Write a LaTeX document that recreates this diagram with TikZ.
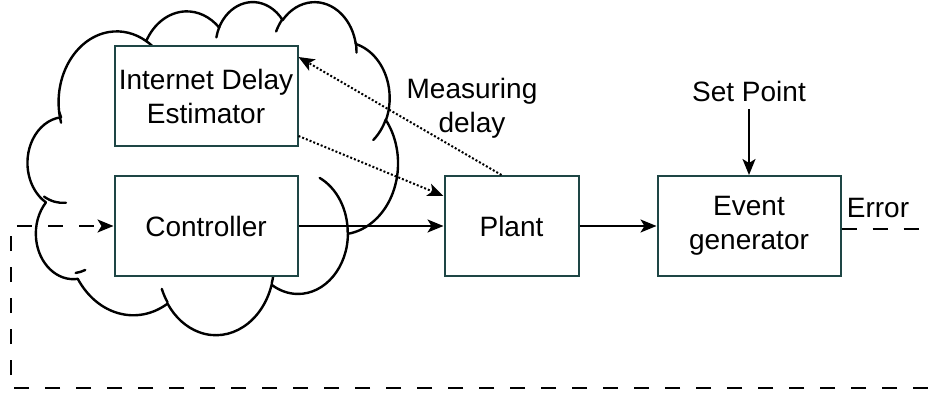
\documentclass[tikz,border=0pt]{standalone}
\usepackage{fontspec}
\setmainfont{Liberation Sans}
\usetikzlibrary{arrows.meta,positioning}
\definecolor{boxline}{HTML}{1E4645}

% one bump of the cloud: x radius, y radius, start angle, sweep (angles as seen, y down)
\newcommand\cldarc[4]{%
  \pgfextra{%
    \pgfmathsetmacro\cldS{atan2((#1)*sin(#3),(#2)*cos(#3))}%
    \pgfmathsetmacro\cldE{atan2((#1)*sin(#3+#4),(#2)*cos(#3+#4))}%
    \pgfmathsetmacro\cldE{\cldS+Mod(\cldE-\cldS,360)}%
    \global\let\cldS\cldS \global\let\cldE\cldE}
  arc[x radius=#1pt, y radius=#2pt, start angle=\cldS, end angle=\cldE]}

\begin{document}
\begin{tikzpicture}[
  x=0.5pt, y=-0.5pt,
  font=\fontsize{14}{17}\selectfont,
  block/.style={draw=boxline,fill=white,line width=1pt,align=center,minimum height=50pt,inner sep=0pt},
  arr/.style={-{Stealth[length=8pt,width=6.5pt,inset=2pt]},line width=1pt},
  fbline/.style={line width=1pt,dash pattern=on 7.5pt off 8pt},
  probe/.style={line width=1.1pt,dash pattern=on 1pt off 1pt},
  cloudline/.style={line width=1.2pt,line join=round,line cap=round}
]
\useasboundingbox (0,0) rectangle (928,396);

% the network cloud, drawn in a 43.2 x 43.2 box
\begin{scope}[shift={(25.5,1)},x=1pt,y=1pt,xscale=4.31,yscale=-3.854]
  \draw[cloudline,fill=white] (3.9,14.37)
    \cldarc{6.753}{9.19}{-190.48748}{123.78053}
    \cldarc{5.333}{7.267}{-144.10238}{89.94523}
    \cldarc{4.365}{5.945}{-145.80792}{99.72302}
    \cldarc{4.857}{6.595}{-130.98607}{117.24173}
    \cldarc{5.333}{7.273}{-78.70888}{109.02692}
    \cldarc{6.775}{9.22}{-46.26725}{130.269}
    \cldarc{5.785}{7.867}{0.62502}{114.03333}
    \cldarc{6.752}{9.215}{22.4516}{115.17255}
    \cldarc{7.72}{10.543}{66.24263}{71.63198}
    \cldarc{4.36}{5.918}{-274.94208}{146.73557}
    \cldarc{4.345}{5.945}{-246.8285}{152.51885}
    -- cycle;
  \draw[cloudline]
    (4.693,26.177) \cldarc{4.345}{5.945}{86.742}{26.4295}
    (6.928,34.899) \cldarc{4.36}{5.918}{73.6105}{11.4475}
    (16.478,39.09) \cldarc{6.752}{9.215}{137.62415}{14.0811}
    (28.827,34.751) \cldarc{6.752}{9.215}{6.45327}{15.99835}
    (34.129,22.954) \cldarc{5.785}{7.867}{-70.29235}{70.91737}
    (41.798,15.354) \cldarc{5.333}{7.273}{30.31803}{27.7515}
    (38.324,5.426) \cldarc{4.857}{6.595}{-13.74433}{14.8589}
    (29.078,3.952) \cldarc{4.857}{6.595}{-149.18145}{18.19537}
    (22.141,4.72) \cldarc{4.365}{5.945}{-163.49427}{17.68635}
    (14,5.192) \cldarc{6.753}{9.19}{-66.70695}{12.31935}
    (4.127,15.789) \cldarc{6.753}{9.19}{157.65435}{11.85817};
\end{scope}

\node[block,minimum width=91.5pt] (ctrl) at (206,226) {Controller};
\node[block,minimum width=91.5pt,above=14pt of ctrl] (est) {Internet Delay\\Estimator};
\node[block,minimum width=67pt,right=72.5pt of ctrl] (plant) {Plant};
\node[block,minimum width=91.5pt,right=38.5pt of plant] (event) {Event\\generator};
\node[above=33pt of event] (setpt) {Set Point};
\node[align=center] (meas) at (472,108) {Measuring\\delay};
\node (err) at (878,208) {Error};

\coordinate (errend) at (928,229);
\coordinate (loopr) at (928,388);
\coordinate (loopl) at (11,388);

\draw[arr] (ctrl) -- (plant);
\draw[arr] (plant) -- (event);
\draw[arr] (setpt) -- (event);
\draw[probe,arr] ([xshift=-5pt]plant.north) -- ([yshift=-6pt]est.north east);
\draw[probe,arr] ([yshift=5.5pt]est.south east) -- ([yshift=-10.5pt]plant.north west);
\draw[fbline] (event.east |- errend) -- (errend);
\draw[fbline,arr] (loopr) -- (loopl) |- (ctrl.west);
\end{tikzpicture}
\end{document}
